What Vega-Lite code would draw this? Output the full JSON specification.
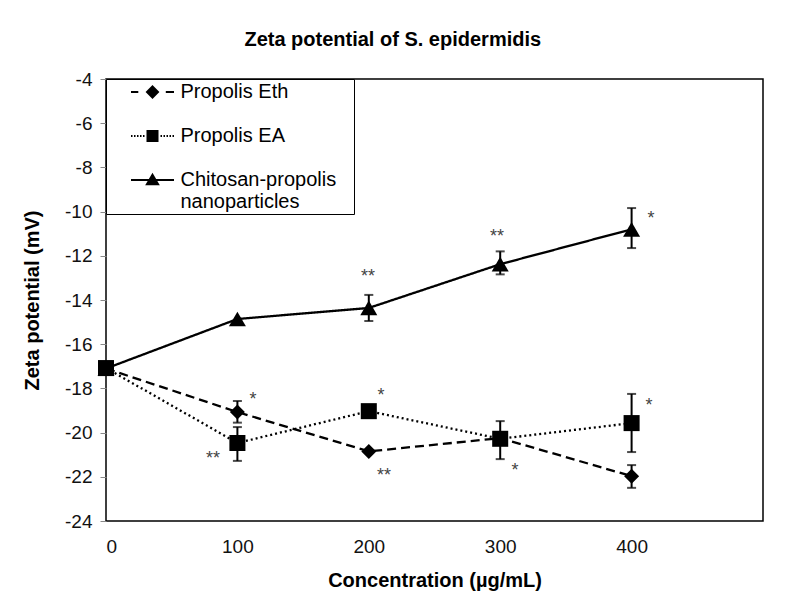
{
  "$schema": "https://vega.github.io/schema/vega-lite/v6.json",
  "width": 657,
  "height": 442,
  "padding": {"left": 22, "top": 30, "right": 5, "bottom": 5},
  "title": {"text": "Zeta potential of S. epidermidis", "font": "Liberation Sans", "fontSize": 20, "fontWeight": "bold", "color": "black", "offset": 20, "anchor": "middle", "frame": "bounds"},
  "config": {
    "font": "Liberation Sans",
    "view": {"stroke": "black", "strokeWidth": 1.5},
    "axis": {"grid": false, "domain": false}
  },
  "datasets": {
    "pts": [
      {"series": "Propolis Eth", "x": 0, "v": -17.1},
      {"series": "Propolis Eth", "x": 100, "v": -19.07, "lo": -19.55, "hi": -18.57},
      {"series": "Propolis Eth", "x": 200, "v": -20.85},
      {"series": "Propolis Eth", "x": 300, "v": -20.25},
      {"series": "Propolis Eth", "x": 400, "v": -21.97, "lo": -22.5, "hi": -21.47},
      {"series": "Chitosan-propolis nanoparticles", "x": 0, "v": -17.1},
      {"series": "Chitosan-propolis nanoparticles", "x": 100, "v": -14.86},
      {"series": "Chitosan-propolis nanoparticles", "x": 200, "v": -14.36, "lo": -14.95, "hi": -13.77},
      {"series": "Chitosan-propolis nanoparticles", "x": 300, "v": -12.38, "lo": -12.84, "hi": -11.8},
      {"series": "Chitosan-propolis nanoparticles", "x": 400, "v": -10.8, "lo": -11.65, "hi": -9.84},
      {"series": "Propolis EA", "x": 0, "v": -17.08},
      {"series": "Propolis EA", "x": 100, "v": -20.47, "lo": -21.28, "hi": -19.75},
      {"series": "Propolis EA", "x": 200, "v": -19.03},
      {"series": "Propolis EA", "x": 300, "v": -20.28, "lo": -21.2, "hi": -19.48},
      {"series": "Propolis EA", "x": 400, "v": -19.57, "lo": -20.88, "hi": -18.25}
    ],
    "stars": [
      {"x": 111.9, "y": -18.3, "t": "*"},
      {"x": 81.4, "y": -20.97, "t": "**"},
      {"x": 209.3, "y": -18.12, "t": "*"},
      {"x": 211.6, "y": -21.74, "t": "**"},
      {"x": 199.4, "y": -12.73, "t": "**"},
      {"x": 297.6, "y": -10.92, "t": "**"},
      {"x": 414.8, "y": -10.1, "t": "*"},
      {"x": 413.3, "y": -18.57, "t": "*"},
      {"x": 311.3, "y": -21.51, "t": "*"}
    ]
  },
  "encoding": {
    "x": {"field": "x", "type": "quantitative", "scale": {"domain": [0, 500], "nice": false},
      "axis": {"title": "Concentration (µg/mL)", "values": [0, 100, 200, 300, 400], "ticks": false, "tickSize": 0, "labelPadding": 16, "labelFontSize": 19, "labelColor": "#111", "titleFontSize": 20, "titleFontWeight": "bold", "titleColor": "black", "titlePadding": 14}},
    "y": {"field": "v", "type": "quantitative", "scale": {"domain": [-24, -4], "nice": false},
      "axis": {"title": "Zeta potential (mV)", "values": [-24, -22, -20, -18, -16, -14, -12, -10, -8, -6, -4], "labelExpr": "'-' + abs(datum.value)", "tickSize": 6, "tickColor": "#888", "labelPadding": 8, "labelFontSize": 19, "labelColor": "#111", "titleFontSize": 20, "titleFontWeight": "bold", "titleColor": "black", "titlePadding": 22}}
  },
  "layer": [
    {
      "data": {"name": "pts"},
      "mark": {"type": "line", "color": "black", "strokeWidth": 2.3},
      "encoding": {
        "detail": {"field": "series"},
        "strokeDash": {"field": "series", "type": "nominal", "scale": {"domain": ["Propolis Eth", "Propolis EA", "Chitosan-propolis nanoparticles"], "range": [[9, 5], [2, 3], [1, 0]]}, "legend": null}
      }
    },
    {
      "data": {"name": "pts"},
      "transform": [{"filter": "isValid(datum.lo)"}],
      "mark": {"type": "errorbar", "color": "black", "thickness": 2, "ticks": {"size": 9, "thickness": 2, "color": "black"}},
      "encoding": {
        "y": {"field": "lo", "type": "quantitative"},
        "y2": {"field": "hi"}
      }
    },
    {
      "data": {"name": "pts"},
      "mark": {"type": "point", "filled": true, "color": "black", "opacity": 1},
      "encoding": {
        "shape": {"field": "series", "type": "nominal", "scale": {"domain": ["Propolis Eth", "Propolis EA", "Chitosan-propolis nanoparticles"], "range": ["diamond", "square", "triangle-up"]}, "legend": null},
        "size": {"field": "series", "type": "nominal", "scale": {"domain": ["Propolis Eth", "Propolis EA", "Chitosan-propolis nanoparticles"], "range": [225, 289, 250]}, "legend": null}
      }
    },
    {
      "data": {"name": "stars"},
      "mark": {"type": "text", "font": "Liberation Sans", "fontSize": 18, "color": "#444", "baseline": "middle", "align": "center", "dy": 5},
      "encoding": {
        "y": {"field": "y", "type": "quantitative"},
        "text": {"field": "t"}
      }
    },
    {
      "data": {"name": "pts"},
      "transform": [{"filter": "false"}],
      "mark": {"type": "point", "filled": false, "color": "black", "strokeWidth": 2, "opacity": 1},
      "encoding": {
        "shape": {"field": "series", "type": "nominal",
          "scale": {"domain": ["Propolis Eth", "Propolis EA", "Chitosan-propolis nanoparticles"],
            "range": [
              "M-2.15,0H-1.42M1.33,0H2.15M0,-0.55L0.55,0L0,0.55L-0.55,0ZM0,-0.4L0.4,0L0,0.4L-0.4,0ZM0,-0.25L0.25,0L0,0.25L-0.25,0ZM0,-0.1L0.1,0L0,0.1L-0.1,0Z",
              "M-2.15,0H-2.0M-1.85,0H-1.7M-1.55,0H-1.4M-1.25,0H-1.1M-0.95,0H-0.8M0.8,0H0.95M1.1,0H1.25M1.4,0H1.55M1.7,0H1.85M2.0,0H2.15M-0.5,-0.5H0.5V0.5H-0.5ZM-0.35,-0.35H0.35V0.35H-0.35ZM-0.2,-0.2H0.2V0.2H-0.2ZM-0.05,-0.05H0.05V0.05H-0.05Z",
              "M-2.15,0H2.15M0,-0.53L0.558,0.415L-0.558,0.415ZM0,-0.355L0.403,0.3275L-0.403,0.3275ZM0,-0.18L0.248,0.24L-0.248,0.24ZM0,-0.005L0.093,0.1525L-0.093,0.1525Z"
            ]},
          "legend": {
            "orient": "top-left", "offset": 0, "title": null, "padding": 2,
            "symbolOffset": 33.5, "labelOffset": 17, "rowPadding": 23,
            "strokeColor": "black", "fillColor": "white",
            "labelFont": "Liberation Sans", "labelFontSize": 20, "labelColor": "black", "labelLimit": 400,
            "symbolSize": 400, "symbolStrokeWidth": 2, "symbolStrokeColor": "black", "symbolOpacity": 1,
            "labelExpr": "datum.label == 'Chitosan-propolis nanoparticles' ? ['Chitosan-propolis\u2800', 'nanoparticles'] : datum.label",
            "encode": {
              "symbols": {"update": {"stroke": {"value": "black"}, "strokeWidth": {"value": 2}, "opacity": {"value": 1}}},
              "labels": {"update": {"lineHeight": {"value": 22}, "dy": {"signal": "datum.index == 2 ? 11 : 0"}}}
            }
          }
        }
      }
    }
  ],
  "resolve": {"scale": {"shape": "independent", "size": "independent"}}
}
